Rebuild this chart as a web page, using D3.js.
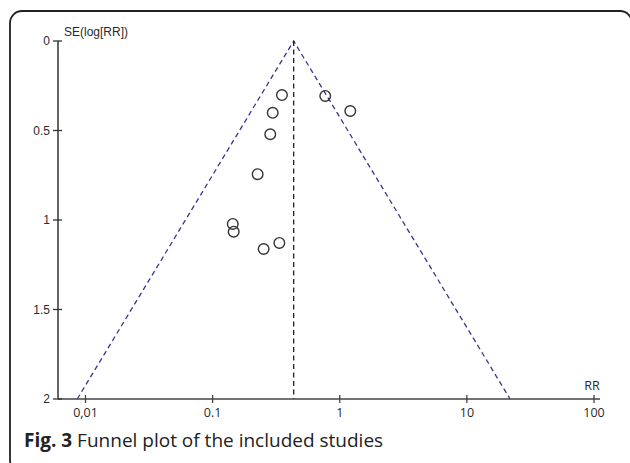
<!DOCTYPE html>
<html><head><meta charset="utf-8">
<script src="https://cdn.jsdelivr.net/npm/d3@7"></script>
<style>
body{margin:0;background:#fff;}
svg{display:block;}
</style></head>
<body>
<svg id="c" width="630" height="463"></svg>
<script>
// Study data (RR, SE(log RR))
const rr = [0.351, 0.769, 1.21, 0.297, 0.284, 0.226, 0.144, 0.1465, 0.335, 0.252];
const se = [0.302, 0.307, 0.391, 0.401, 0.521, 0.744, 1.022, 1.065, 1.128, 1.162];
const pooledRR = 0.434;
const xTicks = [0.01, 0.1, 1, 10, 100];
const xTickLabels = ["0,01", "0.1", "1", "10", "100"];
const yTicks = [0, 0.5, 1, 1.5, 2];
const yTickLabels = ["0", "0.5", "1", "1.5", "2"];
const seMax = 2;

const svg = d3.select("#c");
// frame
svg.append("rect").attr("x",10).attr("y",11).attr("width",622).attr("height",461)
  .attr("rx",12).attr("fill","none").attr("stroke","#222").attr("stroke-width",1.8);

const x = d3.scaleLog().domain([0.01,100]).range([85.5,594]);
const y = d3.scaleLinear().domain([0,2]).range([41,399]);
const axisLeftX = 58, axisRightX = 600;
const axisColor = "#444";

// funnel lines
const lo = Math.exp(Math.log(pooledRR) - 1.96*seMax);
const hi = Math.exp(Math.log(pooledRR) + 1.96*seMax);
const line = d3.line().x(d=>x(d[0])).y(d=>y(d[1]));
svg.append("path").attr("d", line([[lo,seMax],[pooledRR,0],[hi,seMax]]))
  .attr("fill","none").attr("stroke","#36368f").attr("stroke-width",1.3).attr("stroke-dasharray","5,3.5");
svg.append("path").attr("d", line([[pooledRR,0],[pooledRR,seMax]]))
  .attr("fill","none").attr("stroke","#222").attr("stroke-width",1.3).attr("stroke-dasharray","5,3.5");

// x axis
const gx = svg.append("g").attr("transform",`translate(0,${y(2)})`);
gx.append("line").attr("x1",axisLeftX).attr("x2",axisRightX).attr("stroke",axisColor).attr("stroke-width",1.6);
const xa = gx.selectAll("g.t").data(xTicks).join("g").attr("transform",d=>`translate(${x(d)},0)`);
xa.append("line").attr("y1",-4).attr("y2",4).attr("stroke",axisColor).attr("stroke-width",1.3);
xa.append("text").attr("y",18).attr("text-anchor","middle")
  .attr("font-family","'Open Sans', sans-serif").attr("font-size",12.5).attr("fill","#2a2a2a")
  .text((d,i)=>xTickLabels[i]);
svg.append("text").attr("x",592).attr("y",390).attr("text-anchor","middle")
  .attr("font-family","'Open Sans', sans-serif").attr("font-size",12.5).attr("fill","#2a2a2a").text("RR");

// y axis
const gy = svg.append("g").attr("transform",`translate(${axisLeftX},0)`);
gy.append("line").attr("y1",y(0)).attr("y2",y(2)).attr("stroke","#333").attr("stroke-width",1.5);
const ya = gy.selectAll("g.t").data(yTicks).join("g").attr("transform",d=>`translate(0,${y(d)})`);
ya.append("line").attr("x1",-5).attr("x2",4).attr("stroke","#333").attr("stroke-width",1.3);
ya.append("text").attr("x",-8).attr("dy","0.35em").attr("text-anchor","end")
  .attr("font-family","'Liberation Sans', Arial, sans-serif").attr("font-size",12).attr("fill","#2a2a2a")
  .text((d,i)=>yTickLabels[i]);
svg.append("text").attr("x",64).attr("y",36)
  .attr("font-family","'Liberation Sans', Arial, sans-serif").attr("font-size",12).attr("fill","#2a2a2a").text("SE(log[RR])");

// points
svg.append("g").selectAll("circle").data(rr).join("circle")
  .attr("cx",d=>x(d)).attr("cy",(d,i)=>y(se[i])).attr("r",5.3)
  .attr("fill","none").attr("stroke","#333").attr("stroke-width",1.4);

// caption
const cap = svg.append("text").attr("x",24).attr("y",447)
  .attr("font-family","'Open Sans', sans-serif").attr("font-size",19).attr("fill","#222");
cap.append("tspan").attr("font-weight","bold").text("Fig. 3");
cap.append("tspan").text(" Funnel plot of the included studies");
</script>
</body></html>
